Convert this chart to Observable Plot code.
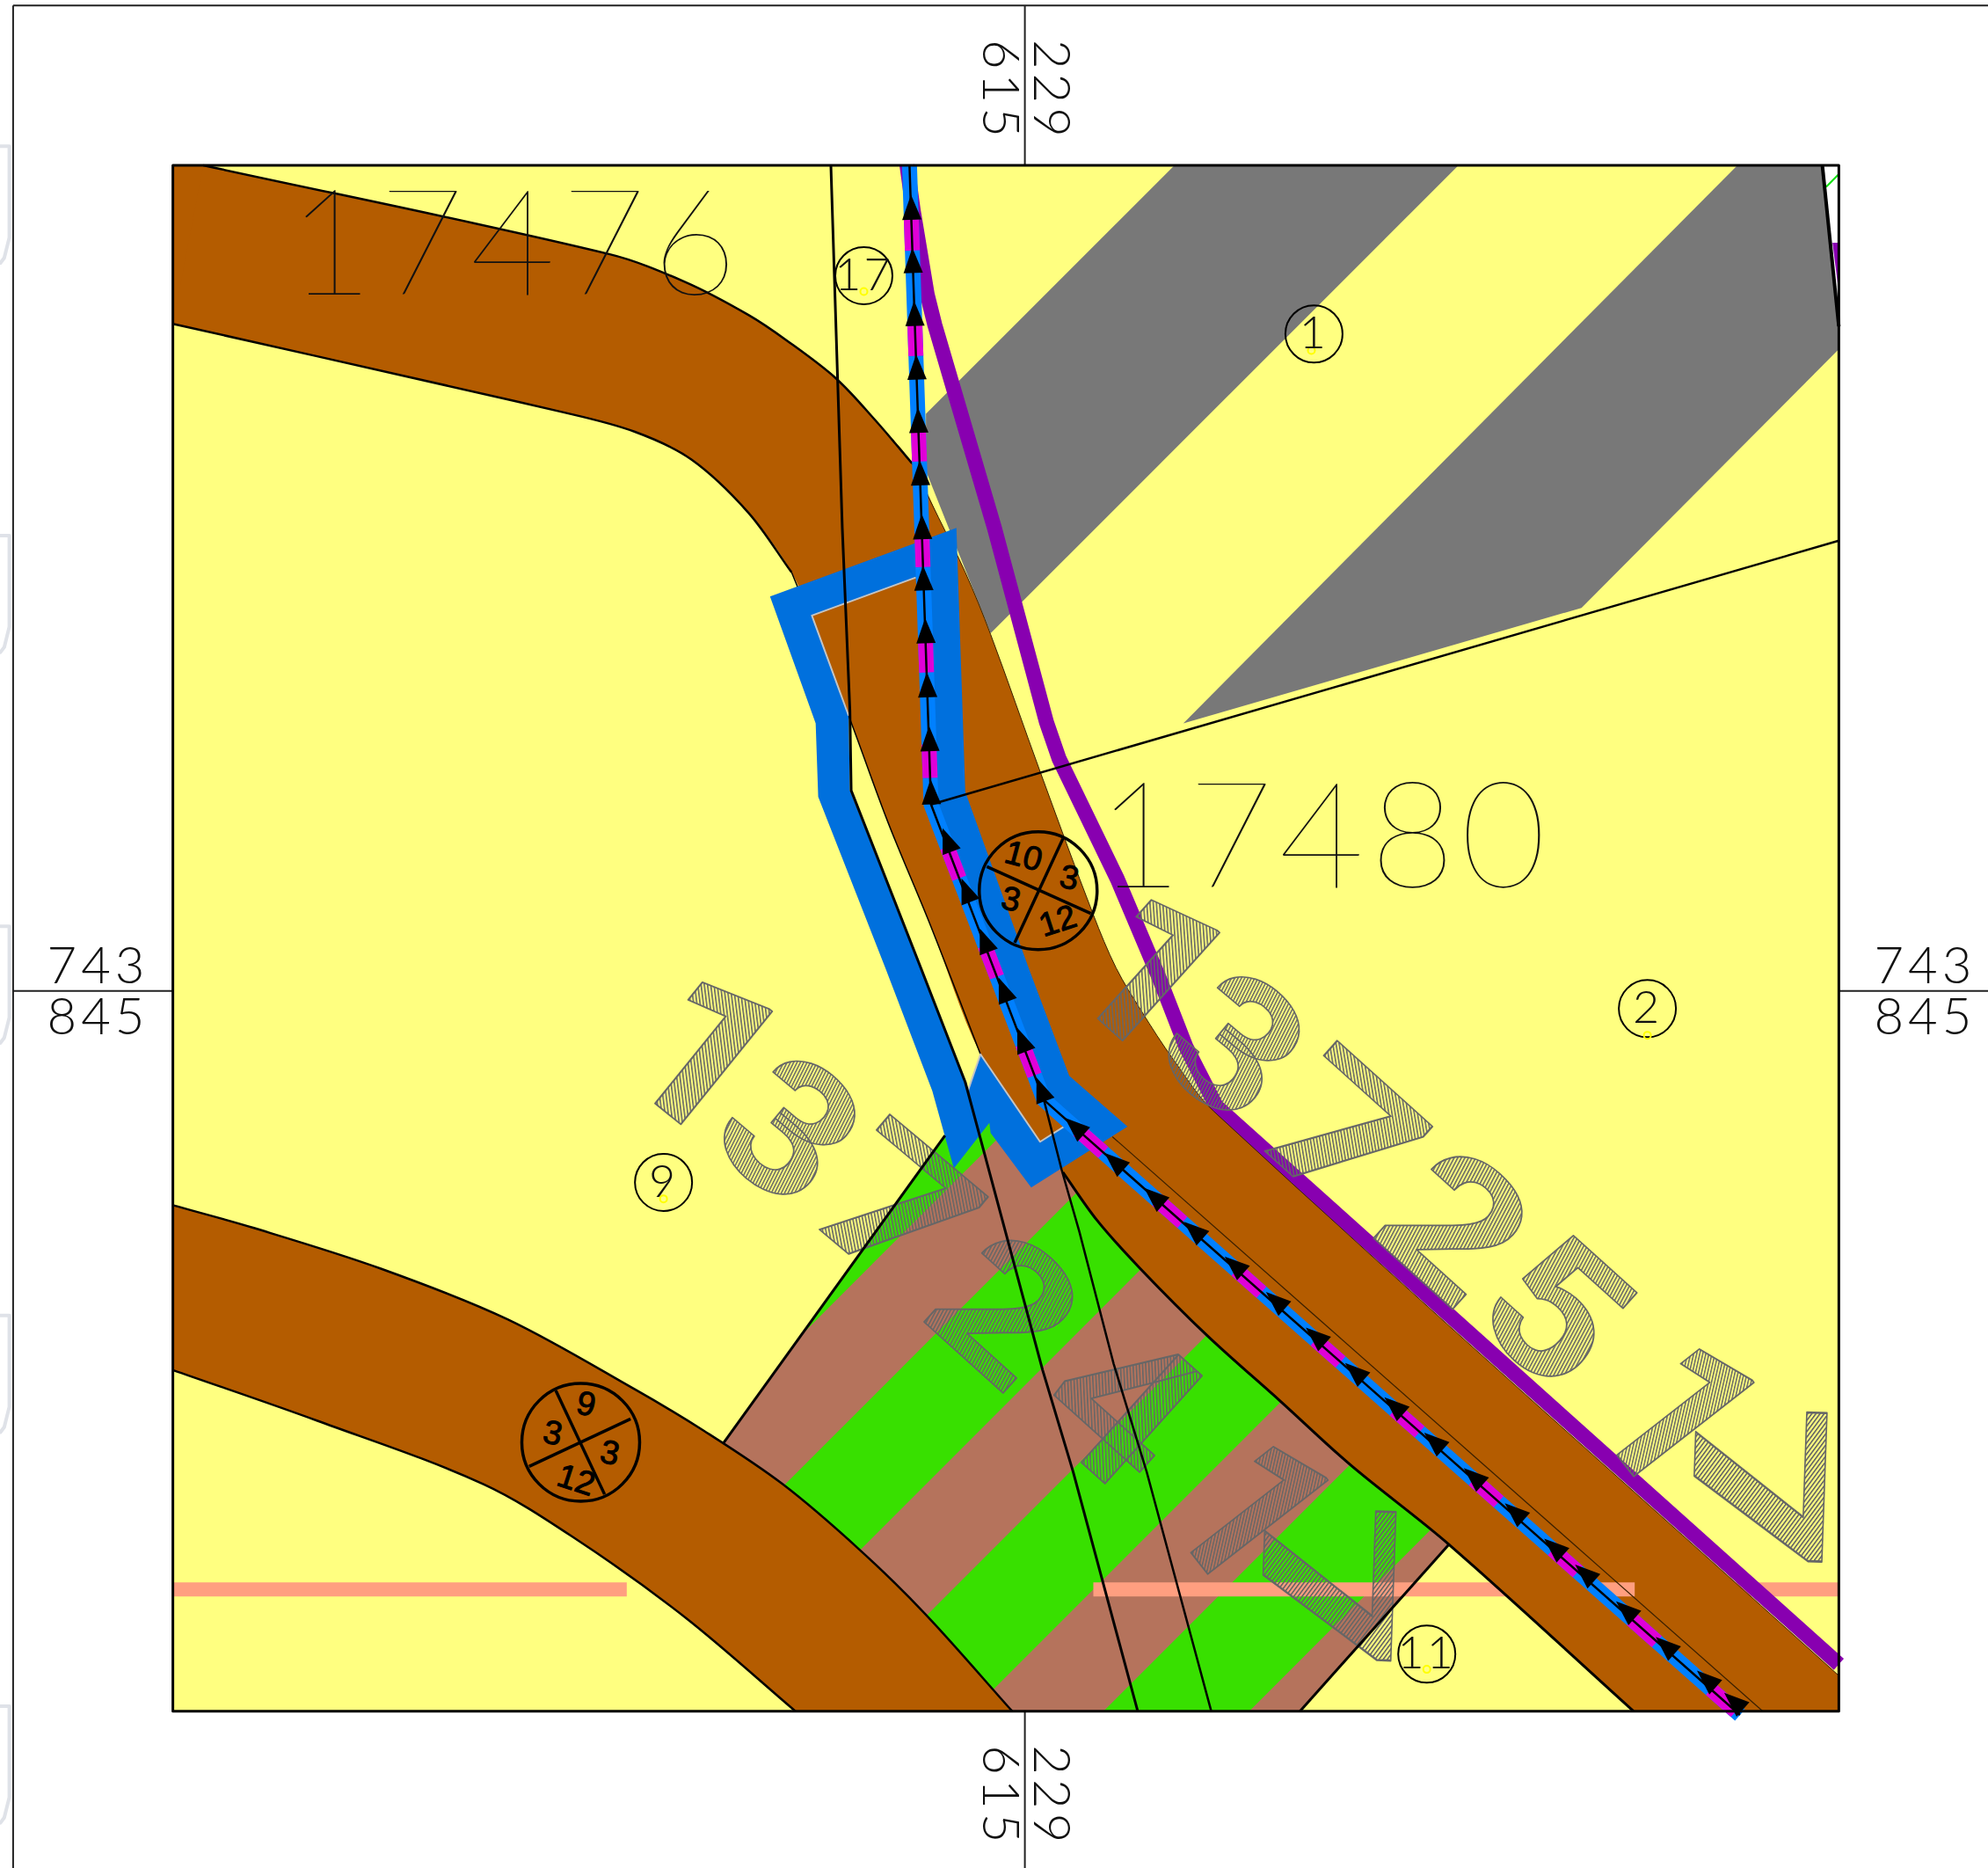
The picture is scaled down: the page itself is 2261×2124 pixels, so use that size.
<!DOCTYPE html>
<html><head><meta charset="utf-8">
<style>html,body{margin:0;padding:0;background:#fff}svg{display:block}</style>
<script src="https://cdn.jsdelivr.net/npm/d3@7"></script>
<script src="https://cdn.jsdelivr.net/npm/@observablehq/plot@0.6"></script>
</head><body><div id="chart"></div>
<script>
// Map sheet coordinates
const mapFrame = [[136,130],[1450,130],[1450,1349],[136,1349]];
const cornerWhite = [[1437,130],[1451,130],[1451,258]];
const cornerPurple = [[1445,191],[1450,191],[1450,230]];
const cornerGreen = [[1440,147],[1450,137]];
const cornerLine = [[1437,130],[1450,257]];
const gray1 = [[926,130],[1150,130],[781,499],[730,371],[730,326]];
const gray2 = [[1370,130],[1437,130],[1450,257],[1450,275],[1247,479],[933,570]];
const lot = [[570,1138],[752,885],[780,885],[840,930],[960,1060],[1143,1217],[1025,1349],[790,1349]];
const pink1 = [[631,1053],[786,898],[870,905],[860,929],[617,1172],[570,1138]];
const pink2 = [[660,1240],[920,980],[1024,980],[724,1280]];
const pink3 = [[766,1349],[1030,1085],[1105,1114],[870,1349]];
const pink4 = [[985,1349],[1150,1184],[1143,1217],[1025,1349]];
const roadCorner = [[136,130],[160,130],[200,200],[136,255]];
const roadUpper = [[160,130],[480,200],[540,222],[590,248],[620,268],[659,298],[690,331],[719,365],[740,408],[761,451],[781,500],[820,608],[862,721],[880,763],[900,797],[925,835],[957,876],[1450,1321]];
const roadLowerA = [[136,255],[445,325],[500,340],[545,362],[590,404],[624,451],[640,490],[669,564],[700,648],[733,728],[773,831]];
const roadLowerB = [[838,924],[865,962],[899,1000],[952,1053],[1010,1105],[1065,1155],[1143,1218],[1288,1349]];
const road2Upper = [[136,950],[200,968],[300,1000],[400,1040],[500,1095],[555,1128],[617,1170],[678,1222],[730,1273],[798,1349]];
const road2Lower = [[136,1080],[250,1120],[381,1170],[455,1214],[540,1275],[627,1349]];
const purplePath = [[715,130],[720,166],[731,232],[737,256],[784,416],[825,569],[835,598],[881,693],[914,771],[935,825],[959,872],[1450,1312]];
const blueOuter = [[607,470],[754,416],[761,624],[811,763],[843,848],[889,888],[813,936],[781,893],[780,885],[752,921],[735,860],[698,763],[645,628],[643,570],[607,470]];
const blueHole = [[640,485],[669,564],[670,623],[761,853],[763,860],[773,831],[820,900],[839,888],[823,867],[734,634],[722,455],[640,485]];
const holeEdgeA = [[669,564],[640,485],[722,455]];
const holeEdgeB = [[763,860],[773,831],[820,900],[839,888]];
const salmonLeft = [[136,1253],[494,1253]];
const salmonRight = [[862,1253],[1450,1253]];
const salmonSliver = [[1262,1253],[1289,1253]];
const arrowPath = [[717,130],[734,634],[823,867],[1372,1352]];
const arrowsA = [[718.5,163],[719.6,205],[721,246.7],[722.6,289],[724,331],[725.4,372.5],[727,415],[728,455.4],[729.7,497],[731,539.6],[732.8,582],[734,624]];
const arrowsB = [[746.7,662],[761.6,701.6],[776,741],[791,780],[805.6,819.5],[820.7,858.6]];
const arrowsC = [[847,887.7],[878.4,915.4],[909.6,943],[941,969.6],[973,997],[1005.6,1025],[1037,1053],[1068,1081],[1099,1108],[1130.4,1136],[1161.6,1163.8],[1194,1191.6],[1225,1219.5],[1249.4,1240],[1281.7,1269],[1313,1297],[1345.5,1323.5],[1367,1341]];
const lineA = [[655,130],[664,416],[670,560],[671,623],[726,763],[761,853],[797,987],[822,1080],[846,1160],[897,1349]];
const lineB = [[823,867],[837,922],[851,971],[878,1075],[904,1160],[955,1349]];
const lineC = [[734,634],[1450,426]];
const lineThin = [[877,896],[1390,1349]];
const lotEdgeA = [[570,1138],[745,895]];
const lotEdgeB = [[1143,1217],[1025,1349]];
const sheetLines = [[[10,4],[10,1473]],[[10,4],[1568,4]],[[808,4],[808,130]],[[808,1349],[808,1473]],[[10,781],[136,781]],[[1450,781],[1568,781]]];
const shieldTops = [115,422,730,1037,1345];
const parcels = [[1036,263,"1"],[1299,795,"2"],[523,932,"9"],[1125,1304,"11"],[681,217,"17"]];
const parcelDots = [[1034,276],[1299,816],[523,945],[1125,1316],[681,229.5]];
const bigNumbers = [[406,195,"17476"],[1044,662,"17480"]];
const sideLabels = [[77,762,"743"],[77,802,"845"],[1518,762,"743"],[1518,802,"845"]];
const rotLabels = [[828,71,"229"],[788,71,"615"],[828,1416,"229"],[788,1416,"615"]];
const pie1 = {c:[[818.5,702]], lines:[[[778,683],[860,720]],[[838,661],[800,743]]], labels:[[807,675,"10",15],[843,692,"3",12],[834,726,"12",-18],[797,709,"3",12]]};
const pie2 = {c:[[457.7,1137]], lines:[[[438,1096],[476.5,1178]],[[417,1156],[497,1118.5]]], labels:[[462,1107,"9",12],[435.6,1130,"3",12],[480.6,1145.5,"3",12],[454,1167,"12",18]]};
const hatchedV = [[554,834,"1",39,1.15,1],[704,956,"7",40,1.25,.92],[882,1110,"4",42,1.1,1],[985,1195,"1",52,.95,1.05],[1042,1250,"7",92,1.45,.9],[905,769,"1",42,1.15,1],[1055,897,"7",42,1.25,.9],[1321,1118,"1",52,.95,1.05],[1382,1172,"7",92,1.45,.9]];
const hatchedT = [[620.5,893.5,"3",40,1,.9],[790,1035,"2",42,1.07,.9],[971,827,"3",40,1,.9],[1144.5,969,"2",42,1.07,.9],[1225,1036,"5",42,1.05,.9]];

const colors = {yellow:"#ffff80",gray:"#787878",green:"#38e000",pink:"#b5735c",brown:"#b45c00",blue:"#0070dd",band:"#0080ff",magenta:"#e000d8",purple:"#8800b0",salmon:"#ff9f80"};

// Bezier smoothing through the read points, keeping sharp corners sharp
const smoothCurve = closed => ctx => {
  let p;
  return {
    lineStart(){p=[];},
    point(x,y){p.push([+x,+y]);},
    lineEnd(){
      const n=p.length, at=i=>closed?p[(i+n)%n]:p[Math.max(0,Math.min(n-1,i))];
      const unit=(a,b)=>{const dx=b[0]-a[0],dy=b[1]-a[1],l=Math.hypot(dx,dy)||1;return [dx/l,dy/l];};
      const tan=(i,side)=>{
        const a=unit(at(i-1),at(i)), b=unit(at(i),at(i+1));
        const open=!closed&&(i<=0||i>=n-1);
        const corner=Math.acos(Math.max(-1,Math.min(1,a[0]*b[0]+a[1]*b[1])))>35*Math.PI/180;
        if(open||corner) return side<0?a:b;
        return unit(at(i-1),at(i+1));
      };
      ctx.moveTo(p[0][0],p[0][1]);
      const last=closed?n:n-1;
      for(let i=0;i<last;i++){
        const A=at(i),B=at(i+1),L=Math.hypot(B[0]-A[0],B[1]-A[1])/3;
        const s=tan(i,1), e=tan(i+1,-1);
        ctx.bezierCurveTo(A[0]+s[0]*L,A[1]+s[1]*L,B[0]-e[0]*L,B[1]-e[1]*L,B[0],B[1]);
      }
      if(closed) ctx.closePath();
    }
  };
};

const poly = (pts,fill) => Plot.line(pts,{fill,stroke:"none",curve:"linear-closed"});
const smoothPoly = (pts,fill) => Plot.line(pts,{fill,stroke:"none",curve:smoothCurve(true)});
const path = (pts,stroke,strokeWidth,extra={}) => Plot.line(pts,{stroke,strokeWidth,strokeLinecap:"butt",strokeLinejoin:"round",...extra});
const smoothPath = (pts,stroke,strokeWidth) => path(pts,stroke,strokeWidth,{curve:smoothCurve(false)});
const triangle = {draw(c,s){const k=Math.sqrt(s/Math.PI);c.moveTo(0,-1.3*k);c.lineTo(k,1.3*k);c.lineTo(-k,1.3*k);c.closePath();}};
const arrows = (pts,rotate) => Plot.dot(pts,{symbol:triangle,r:11,fill:"#000",stroke:"none",rotate});
const spaced = (sp) => ({render(i,s,v,d,c,next){const g=next(i,s,v,d,c);g.style.letterSpacing=sp;return g;}});
const thin = (data,opts,sp) => Plot.text(data,{x:d=>d[0],y:d=>d[1],text:d=>d[2],lineAnchor:"middle",fill:"#111",fontFamily:"Lato",fontWeight:300,...opts,...spaced(sp)});
const hatched = (data,id) => Plot.text(data,{x:d=>d[0],y:d=>d[1],text:d=>d[2],rotate:d=>d[3],lineAnchor:"middle",fontFamily:"Roboto",fontWeight:700,fontSize:232,fill:`url(#${id})`,stroke:"#666",strokeWidth:1.8,
  render(i,s,v,dims,c,next){
    const g=next(i,s,v,dims,c);
    d3.select(g).selectAll("text").attr("transform",function(k){return this.getAttribute("transform")+` scale(${data[k][4]},${data[k][5]})`;});
    return g;
  }});
const pieMarks = p => [
  Plot.dot(p.c,{r:67,stroke:"#000",strokeWidth:3.5,fill:"none"}),
  ...p.lines.map(l=>path(l,"#000",3.5)),
  Plot.text(p.labels,{x:d=>d[0],y:d=>d[1],text:d=>d[2],rotate:d=>d[3],lineAnchor:"middle",fontFamily:"Liberation Sans",fontSize:38,fill:"#000",stroke:"#000",strokeWidth:1})
];
const defs = () => {
  const g = d3.create("svg:defs");
  [["hatchV",-42],["hatchT",-12]].forEach(([id,a])=>{
    const p = g.append("pattern").attr("id",id).attr("patternUnits","userSpaceOnUse").attr("width",3.4).attr("height",5).attr("patternTransform",`rotate(${a})`);
    p.append("rect").attr("width",1.5).attr("height",5).attr("fill","#666");
  });
  return g.node();
};

const chart = Plot.plot({
  width:2261,height:2124,margin:0,
  x:{domain:[0,1568],axis:null},y:{domain:[1473,0],axis:null},
  style:{background:"#fff"},
  marks:[
    defs,
    ...shieldTops.map(t=>Plot.line([[0,t],[7,t],[7,t+72],[3,t+88],[0,t+92]],{stroke:"#dfe2e8",strokeWidth:4})),
    poly(mapFrame,colors.yellow),
    poly(cornerWhite,"#fff"),
    poly(cornerPurple,colors.purple),
    path(cornerGreen,"#00e000",2),
    poly(gray1,colors.gray),
    poly(gray2,colors.gray),
    poly(lot,colors.green),
    poly(pink1,colors.pink),poly(pink2,colors.pink),poly(pink3,colors.pink),poly(pink4,colors.pink),
    path(salmonLeft,colors.salmon,16),
    path(salmonRight,colors.salmon,16),
    path(purplePath,colors.purple,17),
    poly(roadCorner,colors.brown),
    smoothPoly([...roadUpper,[1450,1349],...[...roadLowerB].reverse(),[820,905],...[...roadLowerA].reverse()],colors.brown),
    smoothPoly([...road2Upper,...[...road2Lower].reverse()],colors.brown),
    path(salmonSliver,colors.salmon,16),
    smoothPath(roadUpper.slice(0,8),"#000",2.5),
    smoothPath(roadUpper.slice(7),"#3a2000",1),
    smoothPath(roadLowerA.slice(0,6),"#000",2.5),
    smoothPath(roadLowerA.slice(5),"#000",1.5),
    smoothPath(roadLowerB,"#000",3),
    smoothPath(road2Upper,"#000",2.5),
    smoothPath(road2Lower,"#000",2.5),
    path(lineThin,"#3a2000",1.2),
    poly([...blueOuter,...blueHole],colors.blue),
    path(holeEdgeA,"#c4c4c4",2),
    path(holeEdgeB,"#c4c4c4",2),
    hatched(hatchedV,"hatchV"),
    hatched(hatchedT,"hatchT"),
    path(arrowPath,colors.band,17),
    path(arrowPath,colors.magenta,17,{strokeDasharray:"38 82",strokeDashoffset:61}),
    path(lineA,"#000",3),
    path(lineB,"#000",2.5),
    path(lineC,"#000",2.5),
    path(lotEdgeA,"#000",3),
    path(lotEdgeB,"#000",3),
    path(cornerLine,"#000",4),
    path(arrowPath,"#000",2.5),
    arrows(arrowsA,-2),arrows(arrowsB,-21),arrows(arrowsC,-48.5),
    ...pieMarks(pie1),...pieMarks(pie2),
    Plot.dot(parcels,{r:32.5,stroke:"#000",strokeWidth:2,fill:"none"}),
    Plot.dot(parcelDots,{r:4,stroke:"#ffff00",strokeWidth:2,fill:"none"}),
    thin(parcels,{fontSize:52},"3px"),
    thin(bigNumbers,{fontSize:168,fontWeight:100},"6px"),
    thin(sideLabels,{fontSize:58},"5px"),
    thin(rotLabels,{fontSize:58,rotate:90},"5px"),
    ...sheetLines.map(l=>path(l,"#222",2)),
    Plot.line(mapFrame,{stroke:"#000",strokeWidth:3,curve:"linear-closed",fill:"none"})
  ]
});
document.getElementById("chart").append(chart);
</script></body></html>
